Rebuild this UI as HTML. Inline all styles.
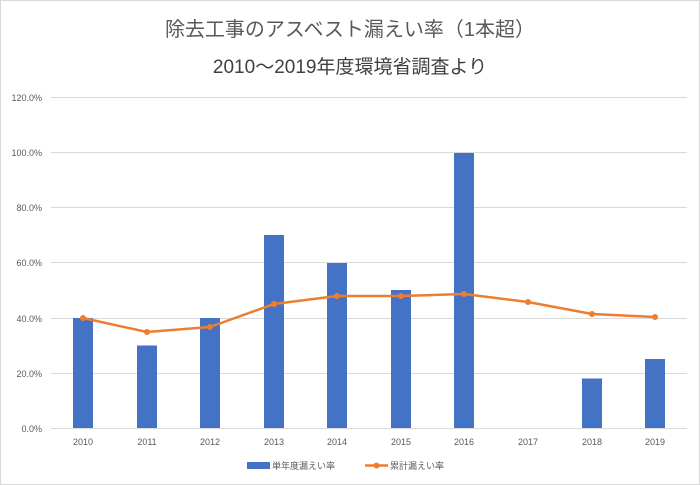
<!DOCTYPE html>
<html><head><meta charset="utf-8"><style>
body{margin:0;background:#fff}
svg{display:block}
text{font-family:"Liberation Sans","Noto Sans CJK JP",sans-serif}
</style></head><body>
<svg width="700" height="485" viewBox="0 0 700 485">
<rect x="0.5" y="0.5" width="699" height="484" fill="#fff" stroke="#d9d9d9"/>
<text x="350" y="36" text-anchor="middle" font-size="20" fill="#595959">除去工事のアスベスト漏えい率（1本超）</text>
<text x="350" y="73" text-anchor="middle" font-size="19" fill="#404040">2010～2019年度環境省調査より</text>
<g stroke="#d9d9d9" stroke-width="1">
<line x1="51" x2="687" y1="97.5" y2="97.5"/>
<line x1="51" x2="687" y1="152.5" y2="152.5"/>
<line x1="51" x2="687" y1="207.5" y2="207.5"/>
<line x1="51" x2="687" y1="262.5" y2="262.5"/>
<line x1="51" x2="687" y1="318.5" y2="318.5"/>
<line x1="51" x2="687" y1="373.5" y2="373.5"/>
<line x1="51" x2="687" y1="428.5" y2="428.5"/>
</g>
<g font-size="9" fill="#595959" text-anchor="end">
<text x="42" y="101">120.0%</text>
<text x="42" y="156">100.0%</text>
<text x="42" y="211">80.0%</text>
<text x="42" y="266">60.0%</text>
<text x="42" y="322">40.0%</text>
<text x="42" y="377">20.0%</text>
<text x="42" y="432">0.0%</text>
</g>
<g fill="#4472c4">
<rect x="73" y="318" width="20" height="110"/>
<rect x="137" y="345.5" width="20" height="82.5"/>
<rect x="200" y="318" width="20" height="110"/>
<rect x="264" y="235" width="20" height="193"/>
<rect x="327" y="263" width="20" height="165"/>
<rect x="391" y="290" width="20" height="138"/>
<rect x="454" y="153" width="20" height="275"/>
<rect x="582" y="378.5" width="20" height="49.5"/>
<rect x="645" y="359" width="20" height="69"/>
</g>
<polyline fill="none" stroke="#ed7d31" stroke-width="2.5" stroke-linejoin="round" points="83,318 147,332 210,327 274,304 337,296 401,296 464,294 528,302 592,314 655,317"/>
<g fill="#ed7d31">
<circle cx="83" cy="318" r="3"/><circle cx="147" cy="332" r="3"/><circle cx="210" cy="327" r="3"/><circle cx="274" cy="304" r="3"/><circle cx="337" cy="296" r="3"/><circle cx="401" cy="296" r="3"/><circle cx="464" cy="294" r="3"/><circle cx="528" cy="302" r="3"/><circle cx="592" cy="314" r="3"/><circle cx="655" cy="317" r="3"/>
</g>
<g font-size="9" fill="#595959" text-anchor="middle">
<text x="83" y="445">2010</text><text x="147" y="445">2011</text><text x="210" y="445">2012</text><text x="274" y="445">2013</text><text x="337" y="445">2014</text><text x="401" y="445">2015</text><text x="464" y="445">2016</text><text x="528" y="445">2017</text><text x="592" y="445">2018</text><text x="655" y="445">2019</text>
</g>
<rect x="247" y="462" width="23" height="7" fill="#4472c4"/>
<text x="272" y="469" font-size="9" fill="#595959">単年度漏えい率</text>
<line x1="365" x2="388" y1="465.5" y2="465.5" stroke="#ed7d31" stroke-width="2.5"/>
<circle cx="376.5" cy="465.5" r="3" fill="#ed7d31"/>
<text x="390" y="469" font-size="9" fill="#595959">累計漏えい率</text>
</svg>
</body></html>
